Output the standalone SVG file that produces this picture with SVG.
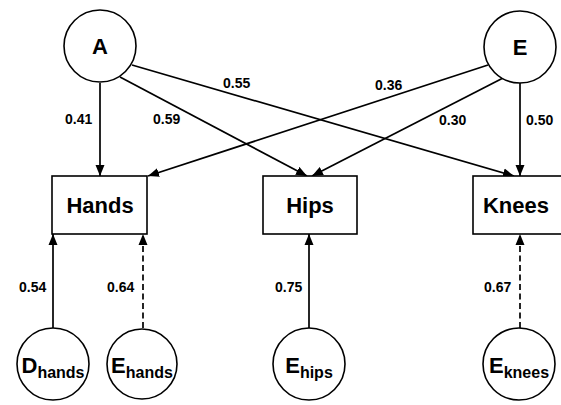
<svg xmlns="http://www.w3.org/2000/svg" width="561" height="405" viewBox="0 0 561 405">
<defs>
<marker id="arr" markerUnits="userSpaceOnUse" markerWidth="12" markerHeight="10" viewBox="0 0 12 10" refX="11" refY="5" orient="auto">
<path d="M0,0.5 L11,5 L0,9.5 Z" fill="#000"/>
</marker>
<style>
.n{fill:#fff;stroke:#000;stroke-width:1.6}
.c{stroke:#000;stroke-width:1.7;fill:none;marker-end:url(#arr)}
.d{stroke-dasharray:6,3.5}
text{font-family:"Liberation Sans",Arial,Helvetica,sans-serif;font-weight:bold;fill:#000}
.big{font-size:22px}
.lbl{font-size:14px}
.sub{font-size:16px}
</style>
</defs>
<rect width="561" height="405" fill="#fff"/>
<g id="connectors">
<line class="c" x1="100" y1="83" x2="100" y2="176"/>
<line class="c" x1="120" y1="77" x2="307" y2="176"/>
<line class="c" x1="132" y1="65" x2="514" y2="176"/>
<line class="c" x1="488" y1="65" x2="148" y2="176"/>
<line class="c" x1="505" y1="77" x2="312" y2="176"/>
<line class="c" x1="520" y1="83" x2="520" y2="176"/>
<line class="c" x1="53" y1="328" x2="53" y2="234"/>
<line class="c d" x1="143" y1="328" x2="143" y2="234"/>
<line class="c" x1="309" y1="328" x2="309" y2="234"/>
<line class="c d" x1="520" y1="328" x2="520" y2="234"/>
<text class="lbl" x="65" y="124">0.41</text>
<text class="lbl" x="153" y="124">0.59</text>
<text class="lbl" x="223" y="88">0.55</text>
<text class="lbl" x="375" y="90">0.36</text>
<text class="lbl" x="439" y="125">0.30</text>
<text class="lbl" x="526" y="125">0.50</text>
<text class="lbl" x="19" y="292">0.54</text>
<text class="lbl" x="107" y="292">0.64</text>
<text class="lbl" x="275" y="292">0.75</text>
<text class="lbl" x="484" y="292">0.67</text>
</g>
<g id="A">
<circle class="n" cx="100" cy="46" r="36"/>
<text class="big" x="100" y="54" text-anchor="middle">A</text>
</g>
<g id="E">
<circle class="n" cx="520" cy="47" r="36"/>
<text class="big" x="520" y="55" text-anchor="middle">E</text>
</g>
<g id="Hands">
<rect class="n" x="52" y="176" width="95" height="58"/>
<text class="big" x="100" y="213" text-anchor="middle">Hands</text>
</g>
<g id="Hips">
<rect class="n" x="263" y="176" width="94" height="58"/>
<text class="big" x="310" y="213" text-anchor="middle">Hips</text>
</g>
<g id="Knees">
<rect class="n" x="473" y="176" width="95" height="58"/>
<text class="big" x="516" y="213" text-anchor="middle">Knees</text>
</g>
<g id="Dhands">
<circle class="n" cx="53" cy="364" r="36"/>
<text x="53" y="373" text-anchor="middle"><tspan class="big">D</tspan><tspan class="sub" dy="5">hands</tspan></text>
</g>
<g id="Ehands">
<circle class="n" cx="142" cy="364" r="35"/>
<text x="142" y="373" text-anchor="middle"><tspan class="big">E</tspan><tspan class="sub" dy="5">hands</tspan></text>
</g>
<g id="Ehips">
<circle class="n" cx="309" cy="364" r="36"/>
<text x="309" y="373" text-anchor="middle"><tspan class="big">E</tspan><tspan class="sub" dy="5">hips</tspan></text>
</g>
<g id="Eknees">
<circle class="n" cx="519" cy="364" r="36"/>
<text x="519" y="373" text-anchor="middle"><tspan class="big">E</tspan><tspan class="sub" dy="5">knees</tspan></text>
</g>
</svg>
